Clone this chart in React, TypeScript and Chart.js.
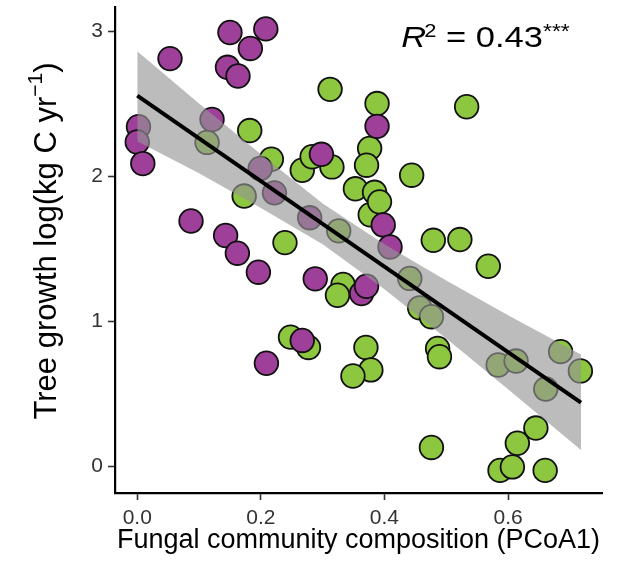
import React, { useEffect, useRef } from "react";
import { Chart, registerables } from "chart.js";

Chart.register(...registerables);

// ---- data ----
const purpleX = [0.150, 0.208, 0.183, 0.053, 0.146, 0.163, 0.121, 0.002, 0.000, 0.009, 0.087, 0.143, 0.162, 0.196, 0.288, 0.209, 0.267, 0.363, 0.371, 0.298, 0.388, 0.398, 0.409, 0.199, 0.222, 0.279];
const purpleY = [2.99, 3.015, 2.88, 2.81, 2.75, 2.69, 2.39, 2.34, 2.235, 2.086, 1.69, 1.59, 1.468, 1.337, 1.291, 0.709, 0.866, 1.19, 1.24, 2.15, 2.343, 1.663, 1.511, 2.052, 1.884, 1.712];

const greenX = [0.312, 0.388, 0.533, 0.182, 0.113, 0.217, 0.267, 0.315, 0.283, 0.376, 0.371, 0.444, 0.353, 0.384, 0.377, 0.392, 0.173, 0.239, 0.326, 0.479, 0.522, 0.568, 0.333, 0.324, 0.441, 0.457, 0.476, 0.248, 0.277, 0.370, 0.378, 0.349, 0.486, 0.489, 0.584, 0.613, 0.685, 0.717, 0.661, 0.645, 0.615, 0.476, 0.587, 0.607, 0.660];
const greenY = [2.598, 2.50, 2.478, 2.314, 2.232, 2.116, 2.04, 2.063, 2.133, 2.191, 2.075, 2.006, 1.912, 1.888, 1.733, 1.822, 1.862, 1.541, 1.622, 1.557, 1.562, 1.378, 1.252, 1.178, 1.294, 1.091, 1.030, 0.889, 0.818, 0.818, 0.663, 0.621, 0.811, 0.754, 0.697, 0.724, 0.789, 0.656, 0.531, 0.262, 0.157, 0.128, -0.03, -0.006, -0.03];

const fitX = [0, 0.718];
const fitY = [2.555, 0.437];

const bandX = [0, 0.1, 0.2, 0.3, 0.4, 0.5, 0.6, 0.718];
const bandUpper = [2.86, 2.50, 2.15, 1.81, 1.53, 1.28, 1.04, 0.77];
const bandLower = [2.24, 2.02, 1.78, 1.53, 1.22, 0.88, 0.53, 0.11];

const xTicks = [0, 0.2, 0.4, 0.6];
const yTicks = [0, 1, 2, 3];

const xTitle = "Fungal community composition (PCoA1)";
const yTitleMain = "Tree growth log(kg C yr";
const yTitleSup = "\u22121";
const yTitleEnd = ")";

const r2Pos = { x: 0.427, y: 2.89 };

const FONT = "'Liberation Sans', Arial, Helvetica, sans-serif";
const PURPLE = "#9e3f99";
const GREEN = "#8dc63f";
const BAND = "rgba(150,150,150,0.64)";

const pts = (xs: number[], ys: number[]) => xs.map((x, i) => ({ x, y: ys[i] }));

const textPlugin = {
  id: "customText",
  afterDraw(chart: any) {
    const { ctx, scales } = chart;
    // y-axis title with superscript
    ctx.save();
    const F = 31;
    const fs = 21;
    ctx.fillStyle = "#000";
    ctx.textBaseline = "middle";
    ctx.textAlign = "left";
    ctx.translate(47, 241);
    ctx.rotate(-Math.PI / 2);
    ctx.font = `${F}px ${FONT}`;
    const w1 = ctx.measureText(yTitleMain).width;
    const w3 = ctx.measureText(yTitleEnd).width;
    ctx.font = `${fs}px ${FONT}`;
    const w2 = ctx.measureText(yTitleSup).width;
    let x0 = -(w1 + w2 + w3) / 2;
    ctx.font = `${F}px ${FONT}`;
    ctx.fillText(yTitleMain, x0, 0);
    x0 += w1;
    ctx.font = `${fs}px ${FONT}`;
    ctx.fillText(yTitleSup, x0, -11);
    x0 += w2;
    ctx.font = `${F}px ${FONT}`;
    ctx.fillText(yTitleEnd, x0, 0);
    ctx.restore();

    // R^2 annotation
    ctx.save();
    const px = scales.x.getPixelForValue(r2Pos.x);
    const py = scales.y.getPixelForValue(r2Pos.y);
    ctx.translate(px, py);
    ctx.scale(1.15, 1);
    ctx.fillStyle = "#000";
    ctx.textBaseline = "alphabetic";
    ctx.textAlign = "left";
    let x = 0;
    ctx.font = `italic 30px ${FONT}`;
    ctx.fillText("R", x, 0);
    x += ctx.measureText("R").width - 1.5;
    ctx.font = `19px ${FONT}`;
    ctx.fillText("2", x, -10);
    x += ctx.measureText("2").width;
    ctx.font = `30px ${FONT}`;
    ctx.fillText(" = 0.43", x, 0);
    x += ctx.measureText(" = 0.43").width;
    ctx.font = `20px ${FONT}`;
    ctx.fillText("***", x, -9);
    ctx.restore();
  },
};

export default function App() {
  const ref = useRef<HTMLCanvasElement | null>(null);
  useEffect(() => {
    if (!ref.current) return;
    Chart.defaults.font.family = FONT;
    const chart = new Chart(ref.current, {
      type: "scatter",
      data: {
        datasets: [
          {
            type: "line",
            data: pts(fitX, fitY),
            borderColor: "#000",
            borderWidth: 4,
            pointRadius: 0,
            fill: false,
            order: 1,
          } as any,
          {
            type: "line",
            data: pts(bandX, bandLower),
            borderWidth: 0,
            borderColor: "rgba(0,0,0,0)",
            pointRadius: 0,
            fill: false,
            order: 2,
          } as any,
          {
            type: "line",
            data: pts(bandX, bandUpper),
            borderWidth: 0,
            borderColor: "rgba(0,0,0,0)",
            backgroundColor: BAND,
            pointRadius: 0,
            fill: 1,
            order: 2,
          } as any,
          {
            data: pts(purpleX, purpleY),
            backgroundColor: PURPLE,
            borderColor: "#111",
            borderWidth: 1.8,
            pointRadius: 11.8,
            order: 3,
          },
          {
            data: pts(greenX, greenY),
            backgroundColor: GREEN,
            borderColor: "#111",
            borderWidth: 1.8,
            pointRadius: 11.8,
            order: 4,
          },
        ],
      },
      options: {
        animation: false,
        responsive: false,
        events: [],
        layout: { autoPadding: false, padding: { left: 0, top: 7, right: 18, bottom: 0 } },
        plugins: {
          legend: { display: false },
          tooltip: { enabled: false },
        },
        scales: {
          x: {
            type: "linear",
            position: "bottom",
            min: -0.036,
            max: 0.752,
            afterBuildTicks: (s: any) => {
              s.ticks = xTicks.map((v) => ({ value: v }));
            },
            afterFit: (s: any) => {
              s.height = 68;
              s.paddingLeft = 0;
              s.paddingRight = 0;
            },
            ticks: {
              color: "#333",
              font: { size: 21 },
              padding: 6,
              maxRotation: 0,
              autoSkip: false,
              callback: (v: any) => Number(v).toFixed(1),
            },
            grid: {
              display: true,
              drawOnChartArea: false,
              drawTicks: true,
              tickLength: 7,
              tickWidth: 1.6,
              tickColor: "#333",
            },
            border: { display: true, color: "#000", width: 2.2 },
            title: {
              display: true,
              text: xTitle,
              color: "#000",
              font: { size: 27, lineHeight: 1 },
              padding: { top: 0, bottom: 7 },
            },
          },
          y: {
            type: "linear",
            position: "left",
            min: -0.186,
            max: 3.166,
            afterBuildTicks: (s: any) => {
              s.ticks = yTicks.map((v) => ({ value: v }));
            },
            afterFit: (s: any) => {
              s.width = 115;
              s.paddingTop = 0;
              s.paddingBottom = 0;
            },
            ticks: {
              color: "#333",
              font: { size: 21 },
              padding: 5,
              autoSkip: false,
              callback: (v: any) => String(v),
            },
            grid: {
              display: true,
              drawOnChartArea: false,
              drawTicks: true,
              tickLength: 7,
              tickWidth: 1.6,
              tickColor: "#333",
            },
            border: { display: true, color: "#000", width: 2.2 },
          },
        },
      },
      plugins: [textPlugin],
    });
    return () => chart.destroy();
  }, []);
  return (
    <div style={{ position: "fixed", left: 0, top: 0, width: 620, height: 561, background: "#fff" }}>
      <canvas ref={ref} width={620} height={561} style={{ display: "block" }} />
    </div>
  );
}
